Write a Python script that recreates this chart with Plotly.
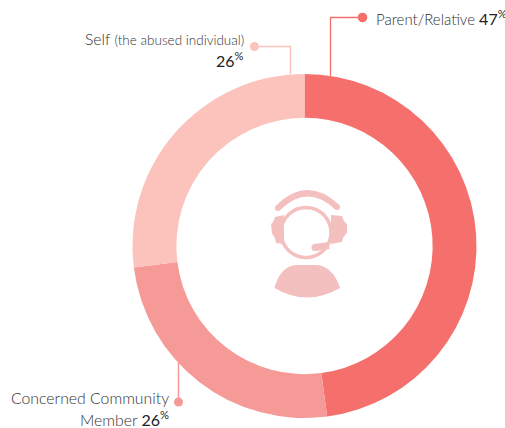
import math
import plotly.graph_objects as go

categories = ["Parent/Relative", "Concerned Community Member", "Self (the abused individual)"]
slice_sizes = [47.9, 25.1, 27.0]
label_values = ["47", "26", "26"]
colors = ["#f5706d", "#f69a97", "#fbc3bc"]
ICON = "#f3bfbf"
W, H = 505, 428
TXT = "#333333"
NUM = "#222222"
FONT = "Lato Light, Lato"

fig = go.Figure(go.Pie(
    labels=categories, values=slice_sizes, sort=False, direction="clockwise", rotation=0,
    hole=0.745, marker=dict(colors=colors, line=dict(width=0)), textinfo="none", hoverinfo="label",
    showlegend=False,
    domain=dict(x=[132.5 / W, 476.5 / W], y=[1 - 418 / H, 1 - 74 / H]),
))

def line(path, color, width):
    return dict(type="path", xref="x", yref="y", path=path, fillcolor="rgba(0,0,0,0)",
                line=dict(color=color, width=width), layer="above")

def fill(path, color=ICON):
    return dict(type="path", xref="x", yref="y", path=path, fillcolor=color,
                line=dict(width=0), layer="above")

def dot(x, y, r, color):
    return dict(type="circle", xref="x", yref="y", x0=x - r, x1=x + r, y0=y - r, y1=y + r,
                fillcolor=color, line=dict(width=0), layer="above")

def arc(cx, cy, r, a0, a1, n=60):
    pts = []
    for i in range(n + 1):
        a = math.radians(a0 + (a1 - a0) * i / n)
        pts.append(f"{cx + r * math.cos(a):.2f},{cy + r * math.sin(a):.2f}")
    return "M" + " L".join(pts)

shapes = [
    line("M330.5,76 L330.5,17.5 L362,17.5", colors[0], 1.3), dot(362.5, 17.5, 4.8, colors[0]),
    line("M290.5,74 L290.5,46.5 L254,46.5", colors[2], 1.5), dot(254.5, 46.5, 4.5, colors[2]),
    line("M178.5,362 L178.5,402", colors[1], 1.5), dot(178.5, 402, 4.5, colors[1]),
    # headset icon
    line("M278,208 Q307,179 337,207", ICON, 6), dot(278, 208, 3, ICON), dot(337, 207, 3, ICON),
    line(arc(306, 232.5, 25, 62, -335), ICON, 3.5),
    line("M315,247.5 L329,245.5", ICON, 7), dot(315, 247.5, 3.5, ICON),
    fill("M284,215 L284,244 L276,243 Q275,236 272,234 L271,224 Q274,222 275,217 Z"),
    fill("M331,215 L331,244 L342,242 Q343,236 347,233 L347,224 Q343,221 342,216 Z"),
    fill("M297,265 L316,265 Q333,266 340,288 Q307,307 274.5,288 Q280,266 297,265 Z"),
]

def ann(x, y, text, anchor="right", size=15.8):
    return dict(xref="x", yref="y", x=x, y=y, text=text, showarrow=False, xanchor=anchor,
                yanchor="middle", align="right", font=dict(family=FONT, size=size, color=TXT))

def num(v):
    return (f"<span style='color:{NUM};font-size:16px;font-family:Lato'>{v}"
            f"<sup style='font-size:8px'>%</sup></span>")

annotations = [
    ann(373.5, 17, f"Parent/Relative {num(label_values[0])}", "left", 15),
    ann(246, 38.5, "Self <span style='font-size:13.5px'>(the abused individual)</span>"),
    ann(246, 59, num(label_values[2])),
    ann(171, 397, "Concerned Community"),
    ann(171, 418, f"Member {num(label_values[1])}"),
]

fig.update_layout(
    width=W, height=H, margin=dict(l=0, r=0, t=0, b=0), paper_bgcolor="white", plot_bgcolor="white",
    xaxis=dict(range=[0, W], visible=False), yaxis=dict(range=[H, 0], visible=False),
    shapes=shapes, annotations=annotations,
)
fig.write_html("out.html", config={"displayModeBar": False},
               post_script="document.body.style.margin='0';document.documentElement.style.overflow='hidden';")
